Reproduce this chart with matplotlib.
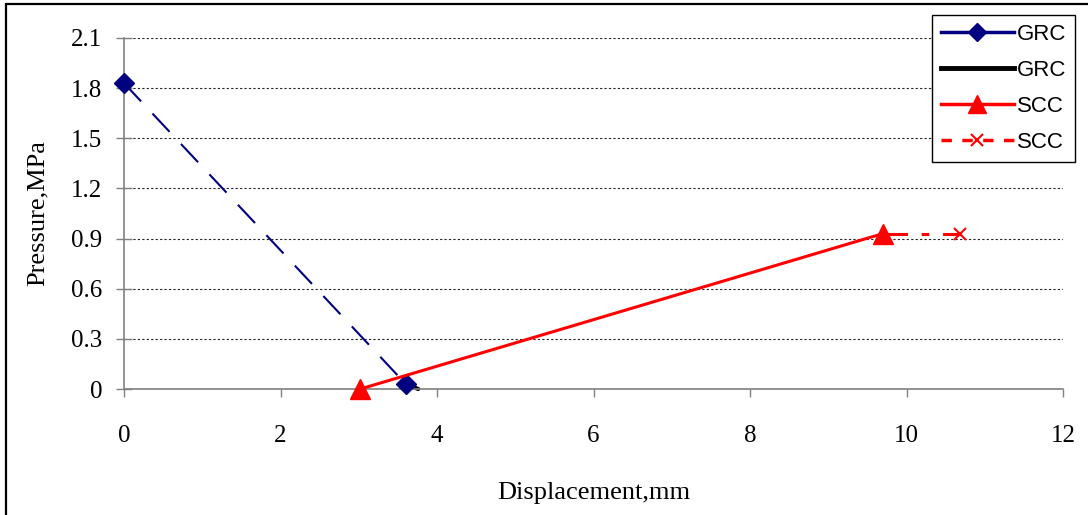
import matplotlib.pyplot as plt
import matplotlib.patches as patches
from matplotlib.lines import Line2D

# GRC curve (dashed, diamonds) and its short tail
grc_x = [0.0, 3.6]
grc_y = [1.83, 0.03]
grc_tail_x = [3.6, 3.76]
grc_tail_y = [0.03, 0.0]

# SCC curve (solid, triangles) and its plateau
scc_x = [3.02, 9.7]
scc_y = [0.0, 0.93]
scc_flat_x = [9.7, 10.68]
scc_flat_y = [0.93, 0.93]

x_ticks = [0, 2, 4, 6, 8, 10, 12]
y_ticks = [0, 0.3, 0.6, 0.9, 1.2, 1.5, 1.8, 2.1]
y_ticklabels = ["0", "0.3", "0.6", "0.9", "1.2", "1.5", "1.8", "2.1"]

navy = "#000080"
red = "#ff0000"

fig = plt.figure(figsize=(10.88, 5.15), dpi=100)
ax = fig.add_axes([124/1088, 1-389/515, (1063-124)/1088, (389-38)/515])

# chart-area border
fig.patches.append(patches.Rectangle((6/1088, -0.05), 1.1, 1-4/515+0.05,
                                     transform=fig.transFigure, fill=False,
                                     edgecolor="black", linewidth=1.6))

ax.plot(grc_x, grc_y, color=navy, lw=1.5, dashes=(12, 8), marker="D",
        markersize=10, zorder=3, clip_on=False)
ax.plot(grc_tail_x, grc_tail_y, color="black", lw=3, solid_capstyle="round",
        zorder=2, clip_on=False)
ax.plot(scc_x, scc_y, color=red, lw=2.2, marker="^", markersize=14, zorder=4,
        clip_on=False)
ax.plot(scc_flat_x, scc_flat_y, color=red, lw=2.2, dashes=(8, 4.5, 2.5, 4.5),
        zorder=3)
ax.plot(scc_flat_x[-1:], scc_flat_y[-1:], color=red, marker="x", markersize=9,
        mew=1.5, ls="none", zorder=3)

ax.set_xlim(0, 12)
ax.set_ylim(0, 2.1)
ax.set_xticks(x_ticks)
ax.set_yticks(y_ticks)
ax.set_yticklabels(y_ticklabels)

for s in ["top", "right"]:
    ax.spines[s].set_visible(False)
for s in ["left", "bottom"]:
    ax.spines[s].set_color("#808080")
    ax.spines[s].set_linewidth(1.2)

ax.yaxis.grid(True, color="#222222", linestyle=(0, (2, 2)), linewidth=0.8)
ax.set_axisbelow(True)

ax.tick_params(axis="x", direction="out", length=6, width=1, color="#808080",
               pad=20, labelsize=18)
ax.tick_params(axis="y", direction="inout", length=11, width=1, color="#808080",
               pad=10, labelsize=18)
for lab in ax.get_xticklabels() + ax.get_yticklabels():
    lab.set_fontfamily("Liberation Serif")

ax.set_xlabel("Displacement,mm", fontsize=19, family="Liberation Serif")
ax.set_ylabel("Pressure,MPa", fontsize=19, family="Liberation Serif")
ax.xaxis.set_label_coords(0.5, (389-493)/351)
ax.xaxis.label.set_va("center")
ax.yaxis.set_label_coords((38-124)/939, 0.5)
ax.yaxis.label.set_va("center")

handles = [
    Line2D([], [], color=navy, lw=2.5, marker="D", markersize=9),
    Line2D([], [], color="black", lw=3.5),
    Line2D([], [], color=red, lw=2.5, marker="^", markersize=13),
    Line2D([], [], color=red, lw=2.5, dashes=(3, 3), marker="x", markersize=9, mew=1.5),
]
leg = fig.legend(handles, ["GRC", "GRC", "SCC", "SCC"], loc="upper right",
                 bbox_to_anchor=(1075/1088, 1-15/515), bbox_transform=fig.transFigure,
                 borderaxespad=0, fancybox=False, edgecolor="black", framealpha=1,
                 prop={"family": "Liberation Sans", "size": 16},
                 handlelength=3.3, handletextpad=0.12, labelspacing=0.68,
                 borderpad=0.4)
leg.get_frame().set_linewidth(1.0)

fig.savefig("out.png", dpi=100)
